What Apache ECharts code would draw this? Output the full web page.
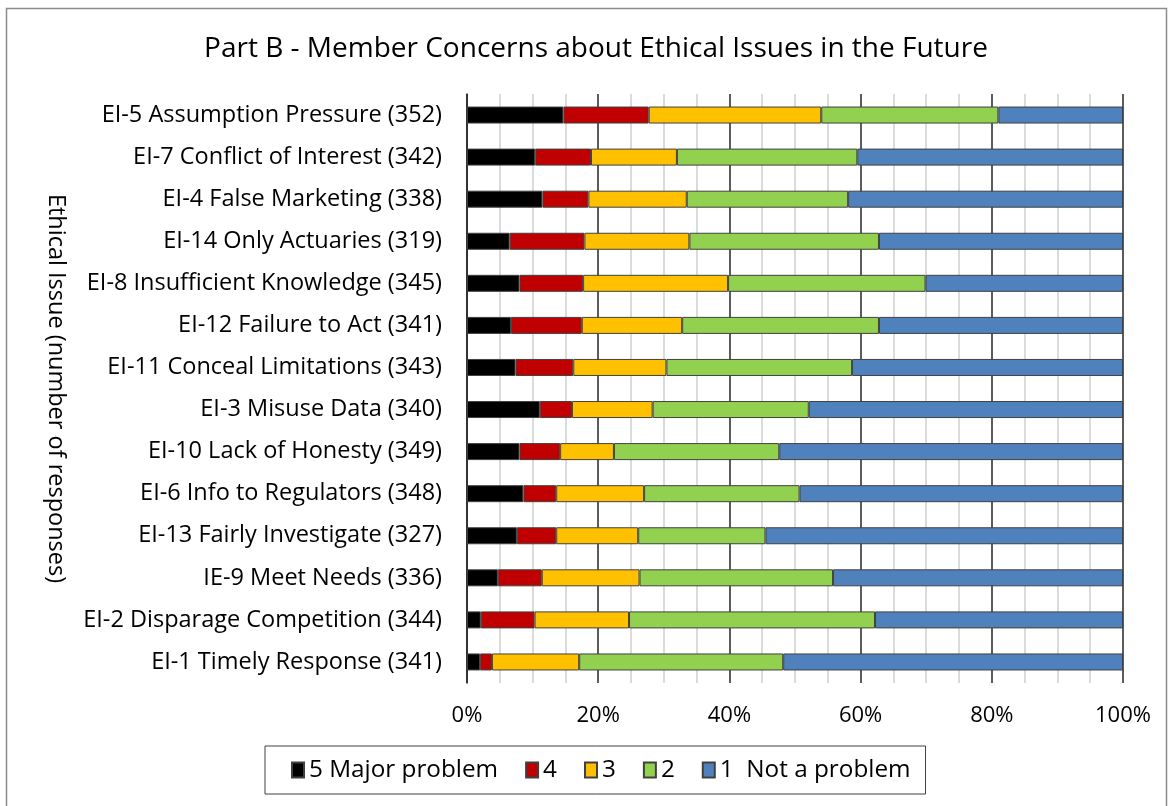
<!DOCTYPE html>
<html>
<head>
<meta charset="utf-8">
<script src="https://cdn.jsdelivr.net/npm/echarts@6/dist/echarts.min.js"></script>
<style>
  html, body { margin: 0; padding: 0; background: #fff; }
  #chart { width: 1172px; height: 806px; }
</style>
</head>
<body>
<div id="chart"></div>
<script>
// Ethical issues, listed top to bottom
const issues = [
  'EI-5 Assumption Pressure (352)',
  'EI-7 Conflict of Interest (342)',
  'EI-4 False Marketing (338)',
  'EI-14 Only Actuaries (319)',
  'EI-8 Insufficient Knowledge (345)',
  'EI-12 Failure to Act (341)',
  'EI-11 Conceal Limitations (343)',
  'EI-3 Misuse Data (340)',
  'EI-10 Lack of Honesty (349)',
  'EI-6 Info to Regulators (348)',
  'EI-13 Fairly Investigate (327)',
  'IE-9 Meet Needs (336)',
  'EI-2 Disparage Competition (344)',
  'EI-1 Timely Response (341)'
];

// Share of responses (%) for each rating, same order as issues
const major5 = [14.7, 10.4, 11.5, 6.5, 8.0, 6.7, 7.4, 11.1, 8.0, 8.6, 7.6, 4.7, 2.1, 2.0];
const rating4 = [13.0, 8.5, 7.0, 11.4, 9.7, 10.8, 8.8, 4.9, 6.2, 5.0, 6.0, 6.7, 8.2, 1.8];
const rating3 = [26.3, 13.1, 15.0, 16.0, 22.1, 15.3, 14.2, 12.3, 8.2, 13.4, 12.5, 14.9, 14.4, 13.3];
const rating2 = [27.0, 27.5, 24.6, 28.9, 30.1, 30.0, 28.3, 23.8, 25.2, 23.7, 19.4, 29.5, 37.5, 31.1];
const notProblem1 = [19.0, 40.5, 41.9, 37.2, 30.1, 37.2, 41.3, 47.9, 52.4, 49.3, 54.5, 44.2, 37.8, 51.8];

const xTicks = [0, 20, 40, 60, 80, 100];

const ratingSeries = [
  { name: '5 Major problem', data: major5, color: '#000000' },
  { name: '4', data: rating4, color: '#C00000' },
  { name: '3', data: rating3, color: '#FFC000' },
  { name: '2', data: rating2, color: '#92D050' },
  { name: '1  Not a problem', data: notProblem1, color: '#4F81BD' }
];

const FONT = '"Open Sans", "Noto Sans", sans-serif';
const chart = echarts.init(document.getElementById('chart'), null, { renderer: 'canvas' });

chart.setOption({
  backgroundColor: '#ffffff',
  animation: false,
  textStyle: { fontFamily: FONT, color: '#000' },
  title: {
    text: 'Part B - Member Concerns about Ethical Issues in the Future',
    left: 591,
    top: 30,
    textAlign: 'center',
    textStyle: { fontFamily: FONT, fontSize: 28, fontWeight: 'normal', color: '#000' }
  },
  graphic: [{
    type: 'rect',
    shape: { x: 6.5, y: 8.5, width: 1160, height: 830 },
    style: { fill: 'none', stroke: '#8c8c8c', lineWidth: 1.5 },
    silent: true,
    z: 100
  }],
  legend: {
    left: 265,
    top: 746,
    orient: 'horizontal',
    icon: 'rect',
    itemWidth: 12,
    itemHeight: 15,
    itemGap: 27,
    padding: [12, 15, 12, 26],
    borderColor: '#404040',
    borderWidth: 1,
    textStyle: { fontFamily: FONT, fontSize: 24.3, color: '#000' },
    data: ratingSeries.map(s => s.name)
  },
  grid: { left: 467, right: 49, top: 94, bottom: 123, containLabel: false },
  xAxis: {
    type: 'value',
    min: xTicks[0],
    max: xTicks[xTicks.length - 1],
    interval: 20,
    axisLine: { show: false },
    axisTick: { show: false },
    axisLabel: {
      margin: 22,
      fontFamily: FONT,
      fontSize: 22,
      color: '#000',
      formatter: v => v + '%'
    },
    splitLine: { show: true, lineStyle: { color: '#262626', width: 1.5 } },
    minorTick: { show: false, splitNumber: 4 },
    minorSplitLine: { show: true, lineStyle: { color: '#cfcfcf', width: 1.5 } }
  },
  yAxis: {
    type: 'category',
    inverse: true,
    data: issues,
    name: 'Ethical Issue (number of responses)',
    nameLocation: 'middle',
    nameGap: 399,
    nameRotate: -90,
    nameTextStyle: { fontFamily: FONT, fontSize: 23.5, color: '#000' },
    axisLine: { show: true, lineStyle: { color: '#262626', width: 1.5 } },
    axisTick: { show: false },
    axisLabel: { margin: 25, fontFamily: FONT, fontSize: 23.5, color: '#000' },
    splitLine: { show: false }
  },
  series: ratingSeries.map(s => ({
    name: s.name,
    type: 'bar',
    stack: 'total',
    barWidth: 17,
    data: s.data,
    itemStyle: { color: s.color, borderColor: '#404040', borderWidth: 1 }
  }))
});
</script>
</body>
</html>
